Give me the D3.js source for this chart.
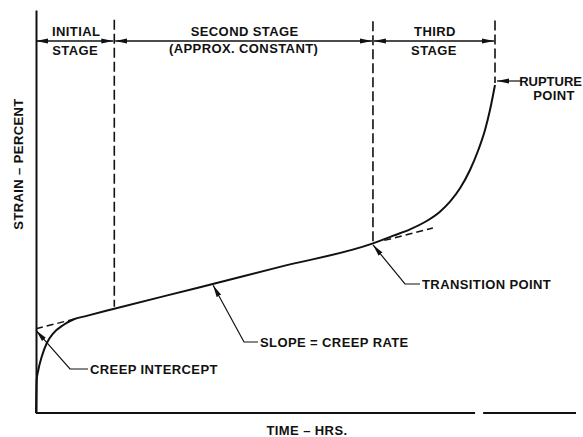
<!DOCTYPE html>
<html>
<head>
<meta charset="utf-8">
<script src="https://cdn.jsdelivr.net/npm/d3@7"></script>
<style>
  body { margin: 0; background: #fff; }
  text { font-family: "Liberation Sans", Arial, sans-serif; font-weight: bold; font-size: 13px; letter-spacing: 0.4px; fill: #111; }
</style>
</head>
<body>
<div id="chart"></div>
<script>
(function(){
  var width = 583,
    height = 437;

  // creep curve, time (arbitrary units) vs strain (arbitrary units)
  var timeVals   = [0, 0.13, 0.43, 1.06, 1.98, 3.2, 5.06, 6.91, 9.39, 14.31, 30, 45, 62.4,
                    66.17, 69.26, 72.35, 74.81, 76.67, 78.52, 80.37, 81.91, 83.15, 84.07, 85.0];
  var strainVals = [0, 8.19, 10.67, 13.97, 17.3, 19.78, 21.84, 23.2, 24.1, 25.8, 31.1, 36.2, 42.1,
                    44.0, 45.58, 47.64, 49.95, 52.43, 55.76, 60.3, 65.26, 70.22, 75.19, 81.39];

  // stage boundaries (time)
  var stageBounds = [0, 14.5, 62.4, 85.0];
  var stageNames = [["INITIAL", "STAGE"], ["SECOND STAGE", "(APPROX. CONSTANT)"], ["THIRD", "STAGE"]];

  // secondary creep line: strain = intercept + rate * time
  var creepIntercept = 20.9,
    creepRate = 0.34;

  var svg = d3.select("#chart")
    .append("svg")
    .attr("width", width)
    .attr("height", height)

  var x = d3.scaleLinear().domain([0, 100]).range([36, 576])
  var y = d3.scaleLinear().domain([0, 100]).range([413, 10])

  var defs = svg.append("defs")
  defs.append("marker")
    .attr("id", "head")
    .attr("viewBox", "0 0 12 6")
    .attr("refX", 12).attr("refY", 3)
    .attr("markerWidth", 12).attr("markerHeight", 6)
    .attr("markerUnits", "userSpaceOnUse")
    .attr("orient", "auto-start-reverse")
    .append("path")
    .attr("d", "M0,0.5 L12,3 L0,5.5 Z")
    .attr("fill", "#111")

  // y axis (no ticks)
  svg.append("g")
    .attr("transform", "translate(" + x(0) + ",0)")
    .call(d3.axisLeft(y).ticks(0).tickSizeOuter(0))
    .select(".domain").attr("stroke", "#111").attr("stroke-width", 2)

  // x axis, drawn in two pieces like the original
  var xSegs = [[0, 81.3], [82.8, 100]]
  svg.selectAll(".xaxis")
    .data(xSegs)
    .enter().append("line")
    .attr("class", "xaxis")
    .attr("x1", function(d){ return x(d[0]) })
    .attr("x2", function(d){ return x(d[1]) })
    .attr("y1", y(0)).attr("y2", y(0))
    .attr("stroke", "#111").attr("stroke-width", 2)

  var line = d3.line()
    .x(function(d){ return x(d[0]) })
    .y(function(d){ return y(d[1]) })
    .curve(d3.curveMonotoneX)

  var pts = timeVals.map(function(t, i){ return [t, strainVals[i]] })

  svg.append("path")
    .datum(pts)
    .attr("d", line)
    .attr("fill", "none")
    .attr("stroke", "#111")
    .attr("stroke-width", 2)

  function strainAt(t) {
    var i = timeVals.indexOf(t)
    if (i >= 0) return strainVals[i]
    for (var k = 1; k < timeVals.length; k++) {
      if (timeVals[k] >= t) {
        var f = (t - timeVals[k-1]) / (timeVals[k] - timeVals[k-1])
        return strainVals[k-1] + f * (strainVals[k] - strainVals[k-1])
      }
    }
    return strainVals[strainVals.length - 1]
  }

  // dashed stage boundaries
  var tops = [y(97.6), y(97.2), y(97.4)]
  svg.selectAll(".bound")
    .data(stageBounds.slice(1))
    .enter().append("line")
    .attr("class", "bound")
    .attr("x1", function(d){ return x(d) })
    .attr("x2", function(d){ return x(d) })
    .attr("y1", function(d, i){ return tops[i] })
    .attr("y2", function(d){ return y(strainAt(d)) - 2 })
    .attr("stroke", "#111")
    .attr("stroke-width", 1.6)
    .attr("stroke-dasharray", "10,4")

  // dashed tangent lines for the second stage
  var tangents = [[0, 7], [64.5, 73.5]]
  svg.selectAll(".tan")
    .data(tangents)
    .enter().append("line")
    .attr("class", "tan")
    .attr("x1", function(d){ return x(d[0]) })
    .attr("x2", function(d){ return x(d[1]) })
    .attr("y1", function(d){ return y(creepIntercept + creepRate * d[0]) })
    .attr("y2", function(d){ return y(creepIntercept + creepRate * d[1]) })
    .attr("stroke", "#111")
    .attr("stroke-width", 1.5)
    .attr("stroke-dasharray", "7,4")

  // stage dimension arrows
  var arrowY = 41
  var stages = d3.pairs(stageBounds)
  svg.selectAll(".dim")
    .data(stages)
    .enter().append("line")
    .attr("class", "dim")
    .attr("x1", function(d, i){ return x(d[0]) + (i ? 1 : 0) })
    .attr("x2", function(d){ return x(d[1]) - 1 })
    .attr("y1", arrowY).attr("y2", arrowY)
    .attr("stroke", "#111").attr("stroke-width", 1.3)
    .attr("marker-start", "url(#head)")
    .attr("marker-end", "url(#head)")

  var lab = svg.selectAll(".stage")
    .data(stages)
    .enter().append("g")
    .attr("class", "stage")
  lab.append("text")
    .attr("x", function(d){ return (x(d[0]) + x(d[1])) / 2 + 1 })
    .attr("y", 36)
    .attr("text-anchor", "middle")
    .text(function(d, i){ return stageNames[i][0] })
  lab.append("text")
    .attr("x", function(d){ return (x(d[0]) + x(d[1])) / 2 })
    .attr("y", function(d, i){ return i == 1 ? 53 : 55 })
    .attr("text-anchor", "middle")
    .text(function(d, i){ return stageNames[i][1] })

  // leader annotations: tip on the curve, elbow, then label
  var tRate = 32.8
  var notes = [
    { label: "CREEP INTERCEPT", tip: [0, creepIntercept], elbow: [70, 369], end: 88 },
    { label: "SLOPE = CREEP RATE", tip: [tRate, creepIntercept + creepRate * tRate], elbow: [244, 342], end: 258 },
    { label: "TRANSITION POINT", tip: [stageBounds[2], strainAt(stageBounds[2])], elbow: [405, 284], end: 420 }
  ]
  notes.forEach(function(n){
    var tx = x(n.tip[0]), ty = y(n.tip[1]) + 1.5
    svg.append("path")
      .attr("d", "M" + n.end + "," + n.elbow[1] + " L" + n.elbow[0] + "," + n.elbow[1] + " L" + tx + "," + ty)
      .attr("fill", "none")
      .attr("stroke", "#111").attr("stroke-width", 1.2)
      .attr("marker-end", "url(#head)")
    svg.append("text")
      .attr("x", n.end + 2)
      .attr("y", n.elbow[1] + 5)
      .text(n.label)
  })

  // rupture point
  var rx = x(stageBounds[3]), ry = y(strainVals[strainVals.length - 1]) - 4
  svg.append("line")
    .attr("x1", 522).attr("x2", rx + 2)
    .attr("y1", ry).attr("y2", ry)
    .attr("stroke", "#111").attr("stroke-width", 1.2)
    .attr("marker-end", "url(#head)")
  svg.append("text").attr("x", 582).attr("y", ry + 5).attr("text-anchor", "end")
    .style("letter-spacing", "0px").text("RUPTURE")
  svg.append("text").attr("x", 554).attr("y", ry + 19).attr("text-anchor", "middle").text("POINT")

  // axis titles
  svg.append("text")
    .attr("x", 307).attr("y", 435)
    .attr("text-anchor", "middle")
    .text("TIME – HRS.")
  svg.append("text")
    .attr("transform", "translate(23,164) rotate(-90)")
    .attr("text-anchor", "middle")
    .text("STRAIN – PERCENT")

})();
</script>
</body>
</html>
